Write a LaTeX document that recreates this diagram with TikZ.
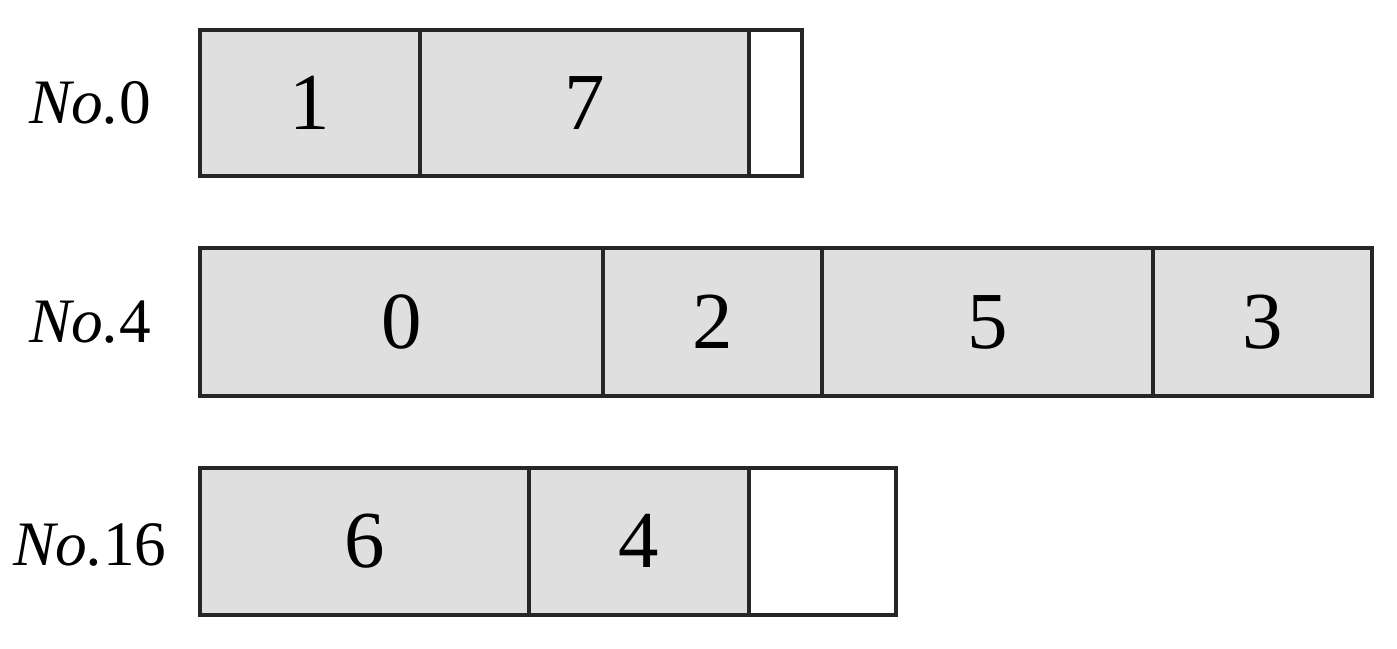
\documentclass[tikz,border=0pt]{standalone}
\usepackage{fontspec}
\setmainfont{Liberation Serif}

\tikzset{
  cell/.style={draw=black!85, line width=0.9pt, fill=gray!25},
  empty/.style={draw=black!85, line width=0.9pt, fill=white},
  num/.style={font=\fontsize{23}{27}\selectfont, inner sep=0pt},
  lab/.style={font=\fontsize{18}{22}\selectfont, inner sep=0pt},
}

\begin{document}
\begin{tikzpicture}[x=0.01cm, y=-0.01cm]
  \useasboundingbox (0,0) rectangle (1397,648);
  % row No.0
  \node[lab] (lab0) at (90,103) {\textit{No.}0};
  \foreach \n/\xa/\xb/\t in {a/200/420/1, b/420/749/7} {
    \draw[cell] (\xa,30) rectangle (\xb,176);
    \node[num] (r0\n) at ({(\xa+\xb)/2},103) {\t};
  }
  \draw[empty] (749,30) rectangle (802,176);
  % row No.4
  \node[lab] (lab4) at (90,322) {\textit{No.}4};
  \foreach \n/\xa/\xb/\t in {a/200/603/0, b/603/822/2, c/822/1153/5, d/1153/1372/3} {
    \draw[cell] (\xa,248) rectangle (\xb,396);
    \node[num] (r4\n) at ({(\xa+\xb)/2},322) {\t};
  }
  % row No.16
  \node[lab] (lab16) at (90,545) {\textit{No.}16};
  \foreach \n/\xa/\xb/\t in {a/200/529/6, b/529/749/4} {
    \draw[cell] (\xa,468) rectangle (\xb,615);
    \node[num] (r16\n) at ({(\xa+\xb)/2},541) {\t};
  }
  \draw[empty] (749,468) rectangle (896,615);
\end{tikzpicture}
\end{document}
